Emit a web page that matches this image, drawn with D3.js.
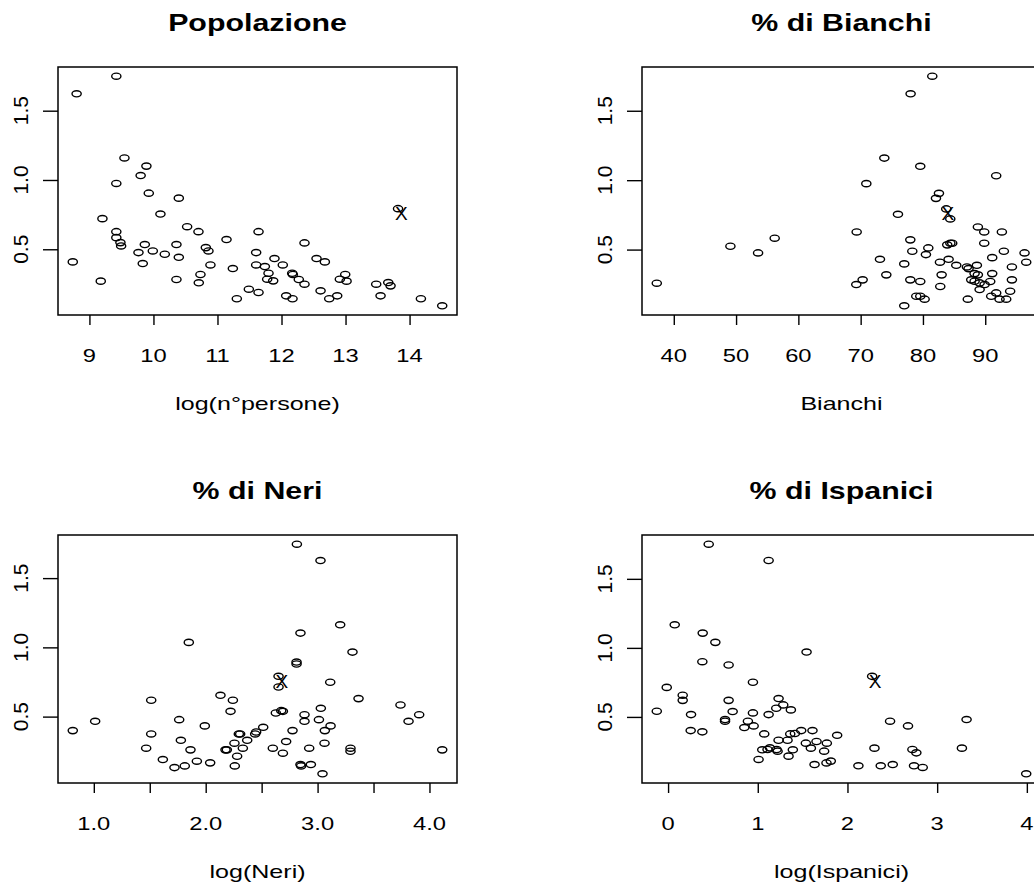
<!DOCTYPE html>
<html><head><meta charset="utf-8">
<script src="https://cdn.jsdelivr.net/npm/d3@7"></script>
<style>
html,body{margin:0;padding:0;background:#fff;}
svg{display:block;font-family:"Liberation Sans",Arial,Helvetica,sans-serif;}
</style></head>
<body>
<svg id="chart" width="1034" height="886"></svg>
<script>
// ---------- data ----------
const titles = ["Popolazione", "% di Bianchi", "% di Neri", "% di Ispanici"];
const xLabels = ["log(n°persone)", "Bianchi", "log(Neri)", "log(Ispanici)"];
const yTicks = [0.5, 1.0, 1.5];
const yTickLabels = ["0.5", "1.0", "1.5"];

const popX = [9.42, 8.80, 9.547, 9.89, 9.80, 9.42, 9.927, 10.396, 10.109, 9.203, 10.526, 10.703, 11.641, 9.42, 11.141, 9.42, 9.484, 9.495, 9.865, 10.359, 12.359, 10.818, 9.766, 9.99, 10.177, 10.859, 10.396, 11.604, 8.74, 9.833, 10.89, 11.24, 11.604, 11.74, 11.89, 12.02, 12.547, 12.677, 11.797, 11.776, 11.87, 12.167, 12.177, 12.27, 12.359, 10.734, 10.708, 10.359, 9.177, 12.995, 12.911, 13.016, 11.49, 11.641, 11.302, 12.073, 12.172, 12.61, 12.745, 12.87, 13.479, 13.667, 13.703, 13.547, 14.177, 14.51, 13.82];
const popY = [1.749, 1.622, 1.159, 1.100, 1.032, 0.975, 0.905, 0.869, 0.754, 0.721, 0.663, 0.627, 0.627, 0.627, 0.570, 0.584, 0.548, 0.524, 0.534, 0.534, 0.546, 0.512, 0.476, 0.488, 0.464, 0.488, 0.442, 0.476, 0.409, 0.397, 0.387, 0.361, 0.387, 0.375, 0.433, 0.387, 0.433, 0.409, 0.327, 0.284, 0.272, 0.327, 0.318, 0.282, 0.248, 0.318, 0.258, 0.282, 0.270, 0.318, 0.284, 0.270, 0.212, 0.188, 0.143, 0.164, 0.143, 0.200, 0.143, 0.164, 0.248, 0.260, 0.236, 0.164, 0.143, 0.092, 0.793];
const popMark = [13.87, 0.764];
const popTicks = [9, 10, 11, 12, 13, 14];
const popTickLabels = ["9", "10", "11", "12", "13", "14"];

const bianX = [81.50, 78.02, 73.80, 79.57, 91.76, 70.91, 82.57, 82.09, 75.99, 83.74, 84.39, 69.36, 88.82, 89.84, 92.67, 77.97, 78.29, 80.86, 80.48, 83.90, 84.40, 84.70, 89.84, 92.99, 96.31, 96.58, 49.09, 53.53, 56.20, 37.27, 73.10, 77.00, 74.12, 82.73, 84.12, 85.35, 87.06, 87.33, 88.66, 91.12, 94.28, 83.00, 88.29, 88.82, 91.12, 69.30, 70.32, 77.97, 79.57, 87.75, 88.29, 89.10, 89.90, 90.80, 94.28, 82.78, 89.10, 94.00, 78.93, 79.57, 80.27, 87.20, 90.96, 91.76, 92.30, 93.37, 77.00];
const bianY = [1.749, 1.622, 1.159, 1.100, 1.032, 0.975, 0.905, 0.869, 0.754, 0.793, 0.721, 0.627, 0.663, 0.627, 0.627, 0.570, 0.488, 0.512, 0.464, 0.534, 0.546, 0.546, 0.546, 0.488, 0.476, 0.409, 0.524, 0.476, 0.582, 0.258, 0.430, 0.397, 0.318, 0.409, 0.430, 0.387, 0.375, 0.363, 0.387, 0.442, 0.375, 0.318, 0.327, 0.318, 0.327, 0.248, 0.282, 0.282, 0.270, 0.282, 0.272, 0.260, 0.248, 0.270, 0.282, 0.234, 0.212, 0.200, 0.164, 0.164, 0.143, 0.143, 0.164, 0.188, 0.143, 0.143, 0.095];
const bianMark = [84.0, 0.764];
const bianTicks = [40, 50, 60, 70, 80, 90];
const bianTickLabels = ["40", "50", "60", "70", "80", "90"];

const neriX = [2.815, 3.026, 3.202, 2.847, 1.849, 3.312, 2.812, 2.812, 2.651, 2.651, 3.113, 1.513, 2.132, 2.243, 3.366, 3.741, 2.222, 2.627, 2.675, 2.690, 3.029, 2.883, 2.883, 3.012, 3.908, 3.813, 1.012, 0.812, 1.763, 1.992, 1.513, 1.778, 1.468, 1.864, 1.617, 1.721, 1.813, 1.921, 2.040, 2.177, 2.189, 2.257, 2.281, 2.260, 2.296, 2.308, 2.332, 2.371, 2.442, 2.451, 2.514, 2.600, 2.690, 2.719, 2.776, 2.847, 2.853, 2.940, 2.925, 3.065, 3.062, 3.116, 3.044, 3.294, 3.294, 4.114];
const neriY = [1.745, 1.627, 1.163, 1.103, 1.036, 0.966, 0.894, 0.880, 0.791, 0.714, 0.748, 0.618, 0.654, 0.618, 0.630, 0.584, 0.538, 0.526, 0.543, 0.538, 0.560, 0.514, 0.466, 0.478, 0.514, 0.466, 0.466, 0.399, 0.478, 0.433, 0.375, 0.329, 0.272, 0.260, 0.190, 0.132, 0.144, 0.178, 0.166, 0.260, 0.260, 0.308, 0.214, 0.144, 0.375, 0.375, 0.272, 0.329, 0.375, 0.389, 0.423, 0.272, 0.236, 0.320, 0.399, 0.154, 0.144, 0.154, 0.272, 0.399, 0.308, 0.433, 0.087, 0.272, 0.250, 0.260];
const neriMark = [2.681, 0.758];
const neriTicks = [1.0, 1.5, 2.0, 2.5, 3.0, 3.5, 4.0];
const neriTickLabels = ["1.0", "", "2.0", "", "3.0", "", "4.0"];

const ispX = [0.453, 1.121, 0.074, 0.386, 0.527, 1.544, 0.382, 0.675, 2.275, 0.946, -0.015, 0.163, 0.163, 0.675, 1.232, 1.284, 1.206, 1.369, -0.126, 0.720, 0.946, 1.121, 0.256, 0.635, 0.635, 0.890, 0.850, 0.954, 0.252, 0.382, 1.072, 1.232, 1.332, 1.362, 1.414, 1.484, 1.610, 1.885, 1.536, 1.655, 1.770, 1.592, 1.740, 1.050, 1.109, 1.135, 1.210, 1.221, 1.391, 1.009, 1.343, 1.633, 1.766, 1.814, 2.122, 2.301, 2.371, 2.505, 2.475, 2.675, 2.724, 2.768, 2.742, 2.839, 3.276, 3.328, 3.993];
const ispY = [1.751, 1.633, 1.167, 1.107, 1.040, 0.970, 0.900, 0.876, 0.794, 0.751, 0.714, 0.657, 0.620, 0.620, 0.633, 0.587, 0.563, 0.551, 0.541, 0.539, 0.529, 0.517, 0.517, 0.481, 0.469, 0.469, 0.423, 0.435, 0.401, 0.392, 0.377, 0.331, 0.331, 0.377, 0.380, 0.401, 0.401, 0.367, 0.310, 0.322, 0.310, 0.274, 0.252, 0.262, 0.264, 0.276, 0.264, 0.252, 0.262, 0.192, 0.216, 0.155, 0.167, 0.180, 0.146, 0.274, 0.146, 0.155, 0.469, 0.435, 0.264, 0.240, 0.146, 0.134, 0.274, 0.481, 0.088];
const ispMark = [2.308, 0.758];
const ispTicks = [0, 1, 2, 3, 4];
const ispTickLabels = ["0", "1", "2", "3", "4"];

// ---------- layout ----------
const svg = d3.select("#chart");
svg.append("rect").attr("width", 1034).attr("height", 886).attr("fill", "#fff");

const boxW = 399, boxH = 248;
const origins = [[58, 67], [642, 67], [58, 535], [642, 535]];
const TXT_SX = 1.32;   // horizontal stretch of the reference text

function padExtent(arr) {
  const [a, b] = d3.extent(arr);
  const r = b - a;
  return [a - 0.04 * r, b + 0.04 * r];
}

const panels = [
  {x: popX, y: popY, mark: popMark, ticks: popTicks, labels: popTickLabels},
  {x: bianX, y: bianY, mark: bianMark, ticks: bianTicks, labels: bianTickLabels},
  {x: neriX, y: neriY, mark: neriMark, ticks: neriTicks, labels: neriTickLabels},
  {x: ispX, y: ispY, mark: ispMark, ticks: ispTicks, labels: ispTickLabels}
];

panels.forEach((p, i) => {
  const [ox, oy] = origins[i];
  const g = svg.append("g").attr("transform", `translate(${ox},${oy})`);
  const xs = d3.scaleLinear().domain(padExtent(p.x)).range([0, boxW]);
  const ys = d3.scaleLinear().domain(padExtent(p.y)).range([boxH, 0]);

  // x axis ticks
  const xa = g.append("g").attr("transform", `translate(0,${boxH})`)
    .call(d3.axisBottom(xs).tickValues(p.ticks).tickSize(10).tickFormat(() => ""));
  xa.select(".domain").remove();
  xa.selectAll(".tick line").attr("stroke", "#000").attr("stroke-width", 1.4);
  p.ticks.forEach((t, k) => {
    if (!p.labels[k]) return;
    g.append("text")
      .attr("transform", `translate(${xs(t)},${boxH + 47}) scale(${TXT_SX},1)`)
      .attr("text-anchor", "middle")
      .attr("font-size", 18)
      .attr("fill", "#000")
      .text(p.labels[k]);
  });

  // y axis ticks
  const ya = g.append("g")
    .call(d3.axisLeft(ys).tickValues(yTicks).tickSize(15).tickFormat(() => ""));
  ya.select(".domain").remove();
  ya.selectAll(".tick line").attr("stroke", "#000").attr("stroke-width", 1.4);
  yTicks.forEach((t, k) => {
    g.append("text")
      .attr("transform", `translate(-30.5,${ys(t)}) rotate(-90)`)
      .attr("text-anchor", "middle")
      .attr("font-size", 21)
      .attr("fill", "#000")
      .text(yTickLabels[k]);
  });

  // box
  g.append("rect").attr("width", boxW).attr("height", boxH)
    .attr("fill", "none").attr("stroke", "#000").attr("stroke-width", 1.5);

  // points
  g.append("g").selectAll("ellipse").data(p.x.map((v, k) => [v, p.y[k]]))
    .join("ellipse")
    .attr("cx", d => xs(d[0])).attr("cy", d => ys(d[1]))
    .attr("rx", 4.6).attr("ry", 3.1)
    .attr("fill", "none").attr("stroke", "#000").attr("stroke-width", 1.4);

  // X marker
  g.append("text")
    .attr("x", xs(p.mark[0])).attr("y", ys(p.mark[1]) + 7)
    .attr("text-anchor", "middle")
    .attr("font-size", 19)
    .attr("fill", "#000")
    .text("X");

  // title
  g.append("text")
    .attr("transform", `translate(${boxW / 2},${-36}) scale(${TXT_SX},1)`)
    .attr("text-anchor", "middle")
    .attr("font-size", 23).attr("font-weight", "bold")
    .attr("fill", "#000")
    .text(titles[i]);

  // x label
  g.append("text")
    .attr("transform", `translate(${boxW / 2},${boxH + 95}) scale(${TXT_SX},1)`)
    .attr("text-anchor", "middle")
    .attr("font-size", 19)
    .attr("fill", "#000")
    .text(xLabels[i]);
});
</script>
</body></html>
